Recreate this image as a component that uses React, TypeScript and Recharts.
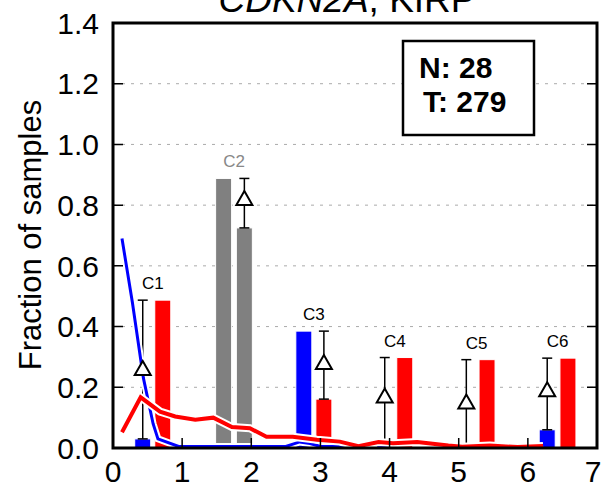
import React from "react";
import {
  ComposedChart,
  Bar,
  Line,
  Scatter,
  ErrorBar,
  XAxis,
  YAxis,
  CartesianGrid,
} from "recharts";

// cluster labels and bar positions along x
const categories = ["C1", "C2", "C3", "C4", "C5", "C6"];
const grayCategory = "C2";
const leftPos = [0.43, 1.6, 2.76, 3.93, 5.11, 6.28];
const rightPos = [0.72, 1.9, 3.05, 4.22, 5.41, 6.58];

// fraction of samples, left bar (blue) and right bar (red)
const leftFrac = [0.03, 0.888, 0.385, 0.02, 0.0, 0.06];
const rightFrac = [0.487, 0.725, 0.161, 0.298, 0.291, 0.296];

// delta marker (triangle) per cluster
const deltaMid = [0.26, 0.82, 0.28, 0.17, 0.15, 0.19];

// trend lines
const blueTrendX = [0.13, 0.28, 0.44, 0.58, 0.65, 0.95, 1.5, 2.0, 2.5, 2.7, 2.85, 3.0, 3.5];
const blueTrendY = [0.69, 0.48, 0.23, 0.08, 0.03, 0.005, 0.005, 0.005, 0.005, 0.02, 0.015, 0.005, 0.005];
const redTrendX = [0.13, 0.4, 0.68, 0.9, 1.19, 1.45, 1.72, 1.98, 2.22, 2.6, 2.95, 3.28, 3.55, 3.84, 4.05, 4.4, 4.85, 5.05, 5.45, 5.85, 6.22];
const redTrendY = [0.052, 0.167, 0.12, 0.104, 0.093, 0.1, 0.069, 0.065, 0.037, 0.037, 0.027, 0.021, 0.006, 0.02, 0.016, 0.02, 0.008, 0.004, 0.008, 0.003, 0.007];

const yTicks = [0, 0.2, 0.4, 0.6, 0.8, 1.0, 1.2, 1.4];
const xTicks = [0, 1, 2, 3, 4, 5, 6, 7];

const FONT = "'Liberation Sans', Arial, Helvetica, sans-serif";
const BLUE = "#0000ff";
const RED = "#ff0000";
const GRAY = "#808080";
const BAR_W = 16;

// chart layout
const W = 602;
const H = 487;
const M = { top: 23, right: 5, bottom: 0, left: 0 };
const Y_AXIS_W = 113;
const X_AXIS_H = 39;
const PLOT_L = M.left + Y_AXIS_W;
const PLOT_R = W - M.right;
const PLOT_T = M.top;
const PLOT_B = H - M.bottom - X_AXIS_H;
const TICK_LEN = 10;

const barRows = categories.flatMap((c, i) => {
  const gray = c === grayCategory;
  return [
    { x: leftPos[i], value: leftFrac[i], color: gray ? GRAY : BLUE },
    { x: rightPos[i], value: rightFrac[i], color: gray ? GRAY : RED },
  ];
});

const deltaRows = categories.map((c, i) => {
  const lo = Math.min(leftFrac[i], rightFrac[i]);
  const hi = Math.max(leftFrac[i], rightFrac[i]);
  const x = leftFrac[i] < rightFrac[i] ? leftPos[i] : rightPos[i];
  return { x, y: deltaMid[i], err: [deltaMid[i] - lo, hi - deltaMid[i]] };
});

const labelRows = categories.map((c, i) => ({
  x: (leftPos[i] + rightPos[i]) / 2,
  y: Math.max(leftFrac[i], rightFrac[i]),
  name: c,
}));

const blueTrend = blueTrendX.map((x, i) => ({ x, y: blueTrendY[i] }));
const redTrend = redTrendX.map((x, i) => ({ x, y: redTrendY[i] }));

const Triangle = (p: any) => {
  const { cx, cy } = p;
  return (
    <path
      d={`M${cx},${cy - 8} L${cx + 8},${cy + 6} L${cx - 8},${cy + 6} Z`}
      fill="#fff"
      stroke="#000"
      strokeWidth={2}
    />
  );
};

const ClusterLabel = (p: any) => (
  <text
    x={p.cx}
    y={p.cy - 11}
    textAnchor="middle"
    fontFamily={FONT}
    fontSize={17}
    fill={p.payload.name === grayCategory ? "#888" : "#000"}
  >
    {p.payload.name}
  </text>
);

// bar centred on the library's x coordinate, fixed pixel width
const BarRect = (p: any) => {
  const cx = p.x + p.width / 2;
  return (
    <rect
      x={cx - BAR_W / 2}
      y={p.y}
      width={BAR_W}
      height={Math.max(p.height, 0)}
      fill={p.payload.color}
      stroke="#fff"
      strokeWidth={1}
    />
  );
};

// tick label plus inward tick marks on both sides of the frame
const YTick = (p: any) => {
  const v = p.payload.value;
  const inner = v > 0 && v < 1.4;
  return (
    <g>
      <text x={p.x} y={p.y} dy="0.355em" textAnchor="end" fontFamily={FONT} fontSize={30} fill="#000">
        {v.toFixed(1)}
      </text>
      {inner && (
        <path
          d={`M${PLOT_L},${p.y}h${TICK_LEN}M${PLOT_R},${p.y}h${-TICK_LEN}`}
          stroke="#000"
          strokeWidth={1.5}
          fill="none"
        />
      )}
    </g>
  );
};

const XTick = (p: any) => {
  const v = p.payload.value;
  const inner = v > 0 && v < 7;
  return (
    <g>
      <text
        x={p.x}
        y={p.y}
        dy="0.71em"
        dx={v === 7 ? -4 : 0}
        textAnchor="middle"
        fontFamily={FONT}
        fontSize={30}
        fill="#000"
      >
        {v}
      </text>
      {inner && (
        <path d={`M${p.x},${PLOT_B}v${-TICK_LEN}`} stroke="#000" strokeWidth={1.5} fill="none" />
      )}
    </g>
  );
};

export default function App() {
  return (
    <div style={{ position: "absolute", left: 0, top: 0, width: W, height: H, background: "#fff" }}>
      <ComposedChart width={W} height={H} data={barRows} margin={M}>
        <CartesianGrid horizontal vertical={false} stroke="#aaa" strokeDasharray="3 6" />
        <XAxis
          dataKey="x"
          type="number"
          domain={[0, 7]}
          ticks={xTicks}
          height={X_AXIS_H}
          tickLine={false}
          axisLine={false}
          tickSize={0}
          tickMargin={13}
          tick={XTick}
        />
        <YAxis
          type="number"
          domain={[0, 1.4]}
          ticks={yTicks}
          width={Y_AXIS_W}
          tickLine={false}
          axisLine={false}
          tickSize={0}
          tickMargin={14}
          tick={YTick}
        />
        <Bar dataKey="value" barSize={BAR_W} fill={BLUE} shape={BarRect} isAnimationActive={false} />
        <Scatter data={deltaRows} dataKey="y" shape={Triangle} isAnimationActive={false}>
          <ErrorBar dataKey="err" direction="y" width={5} stroke="#000" strokeWidth={1.5} />
        </Scatter>
        <Scatter data={labelRows} dataKey="y" shape={ClusterLabel} isAnimationActive={false} />
        <Line data={blueTrend} dataKey="y" type="linear" stroke="#fff" strokeWidth={7} dot={false} isAnimationActive={false} />
        <Line data={blueTrend} dataKey="y" type="linear" stroke={BLUE} strokeWidth={3} dot={false} isAnimationActive={false} />
        <Line data={redTrend} dataKey="y" type="linear" stroke="#fff" strokeWidth={8} dot={false} isAnimationActive={false} />
        <Line data={redTrend} dataKey="y" type="linear" stroke={RED} strokeWidth={4} dot={false} isAnimationActive={false} />
      </ComposedChart>
      <svg width={W} height={H} style={{ position: "absolute", left: 0, top: 0, pointerEvents: "none" }}>
        <path
          d={`M${PLOT_L},${PLOT_T}H${PLOT_R}V${PLOT_B}H${PLOT_L}Z`}
          fill="none"
          stroke="#000000"
          strokeWidth={3}
        />
        <text x={347} y={12} textAnchor="middle" fontFamily={FONT} fontSize={37} fill="#000">
          <tspan fontStyle="italic">CDKN2A</tspan>
          <tspan>, KIRP</tspan>
        </text>
        <text
          transform="translate(41,235) rotate(-90)"
          textAnchor="middle"
          fontFamily={FONT}
          fontSize={31}
          fill="#000"
        >
          Fraction of samples
        </text>
        <rect x={403} y={41} width={131} height={94} fill="#fff" stroke="#000" strokeWidth={2.5} />
        <text x={419} y={78} fontFamily={FONT} fontSize={30} fontWeight="bold" fill="#000">
          N: 28
        </text>
        <text x={423} y={112} fontFamily={FONT} fontSize={30} fontWeight="bold" fill="#000">
          T: 279
        </text>
      </svg>
    </div>
  );
}
